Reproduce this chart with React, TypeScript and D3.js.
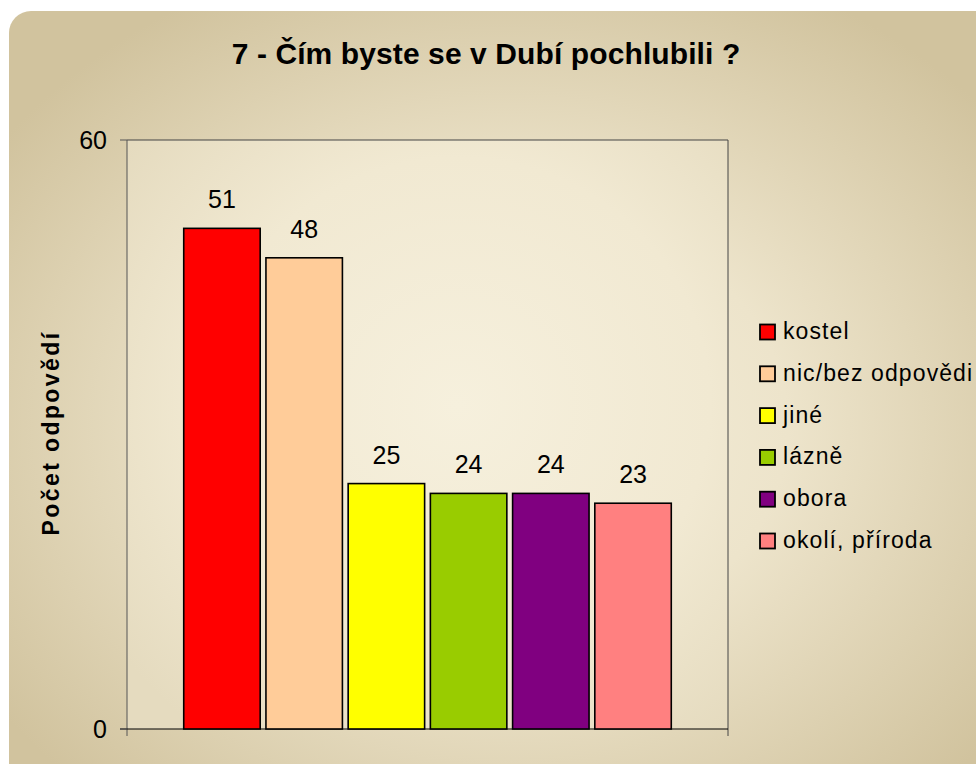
import React from "react";
import * as d3 from "d3";

const categories = ["kostel", "nic/bez odpovědi", "jiné", "lázně", "obora", "okolí, příroda"];
const values = [51, 48, 25, 24, 24, 23];
const colors = ["#ff0000", "#ffcc99", "#ffff00", "#99cc00", "#800080", "#ff8080"];
const yTicks = [0, 60];
const title = "7 - Čím byste se v Dubí pochlubili ?";
const yLabel = "Počet odpovědí";

const W = 976;
const H = 764;
const plot = { left: 127, right: 728, top: 140, bottom: 729 };
const FONT = "'Liberation Sans', Arial, sans-serif";

export default function App() {
  const x = d3
    .scaleBand<string>()
    .domain(categories)
    .range([plot.left, plot.right])
    .paddingInner(0.07)
    .paddingOuter(0.69);
  const y = d3.scaleLinear().domain([0, 60]).range([plot.bottom, plot.top]);
  const legendY = d3.scalePoint<string>().domain(categories).range([332, 541]);

  return (
    <svg
      width={W}
      height={H}
      style={{ position: "absolute", left: 0, top: 0, background: "#ffffff" }}
      fontFamily={FONT}
    >
      <defs>
        <radialGradient id="bg" cx="0.5" cy="0.52" r="0.62">
          <stop offset="0" stopColor="#f5efdb" />
          <stop offset="0.45" stopColor="#ede4cb" />
          <stop offset="1" stopColor="#d1c39e" />
        </radialGradient>
        <radialGradient id="pbg" cx="0.55" cy="0.45" r="0.7">
          <stop offset="0" stopColor="#f6f0dd" />
          <stop offset="0.6" stopColor="#f1e9d2" />
          <stop offset="1" stopColor="#e5dbbf" />
        </radialGradient>
      </defs>
      <rect x={9} y={11} width={1000} height={800} rx={22} fill="url(#bg)" />
      <rect
        x={plot.left}
        y={plot.top}
        width={plot.right - plot.left}
        height={plot.bottom - plot.top}
        fill="url(#pbg)"
      />
      <line x1={plot.left} x2={plot.right} y1={plot.top} y2={plot.top} stroke="#444" strokeWidth={1} />
      <line x1={plot.right} x2={plot.right} y1={plot.top} y2={plot.bottom + 7} stroke="#444" strokeWidth={1} />
      <line x1={plot.left} x2={plot.left} y1={plot.top} y2={plot.bottom + 7} stroke="#555" strokeWidth={1} />
      <line x1={plot.left - 7} x2={plot.right} y1={plot.bottom} y2={plot.bottom} stroke="#000" strokeWidth={1} />
      {yTicks.map((t) => (
        <g key={t}>
          <line x1={plot.left - 7} x2={plot.left} y1={y(t)} y2={y(t)} stroke="#555" />
          <text x={107} y={y(t)} dy="0.36em" textAnchor="end" fontSize={25} fill="#000">
            {t}
          </text>
        </g>
      ))}
      {categories.map((c, i) => (
        <g key={c}>
          <rect
            x={x(c)!}
            y={y(values[i])}
            width={x.bandwidth()}
            height={y(0) - y(values[i])}
            fill={colors[i]}
            stroke="#000"
            strokeWidth={1.6}
          />
          <text
            x={x(c)! + x.bandwidth() / 2}
            y={y(values[i]) - 20}
            textAnchor="middle"
            fontSize={25}
            fill="#000"
          >
            {values[i]}
          </text>
        </g>
      ))}
      <text x={486} y={64} textAnchor="middle" fontSize={30} letterSpacing={0.1} fontWeight="bold" fill="#000">
        {title}
      </text>
      <text
        transform={`translate(59,433) rotate(-90)`}
        textAnchor="middle"
        fontSize={23}
        letterSpacing={2.4}
        fontWeight="bold"
        fill="#000"
      >
        {yLabel}
      </text>
      {categories.map((c, i) => (
        <g key={c} transform={`translate(0,${legendY(c)})`}>
          <rect x={760} y={-7.5} width={15} height={15} fill={colors[i]} stroke="#000" strokeWidth={1.8} />
          <text x={783} y={0} dy="0.3em" fontSize={23} letterSpacing={1.1} fill="#000">
            {c}
          </text>
        </g>
      ))}
    </svg>
  );
}
